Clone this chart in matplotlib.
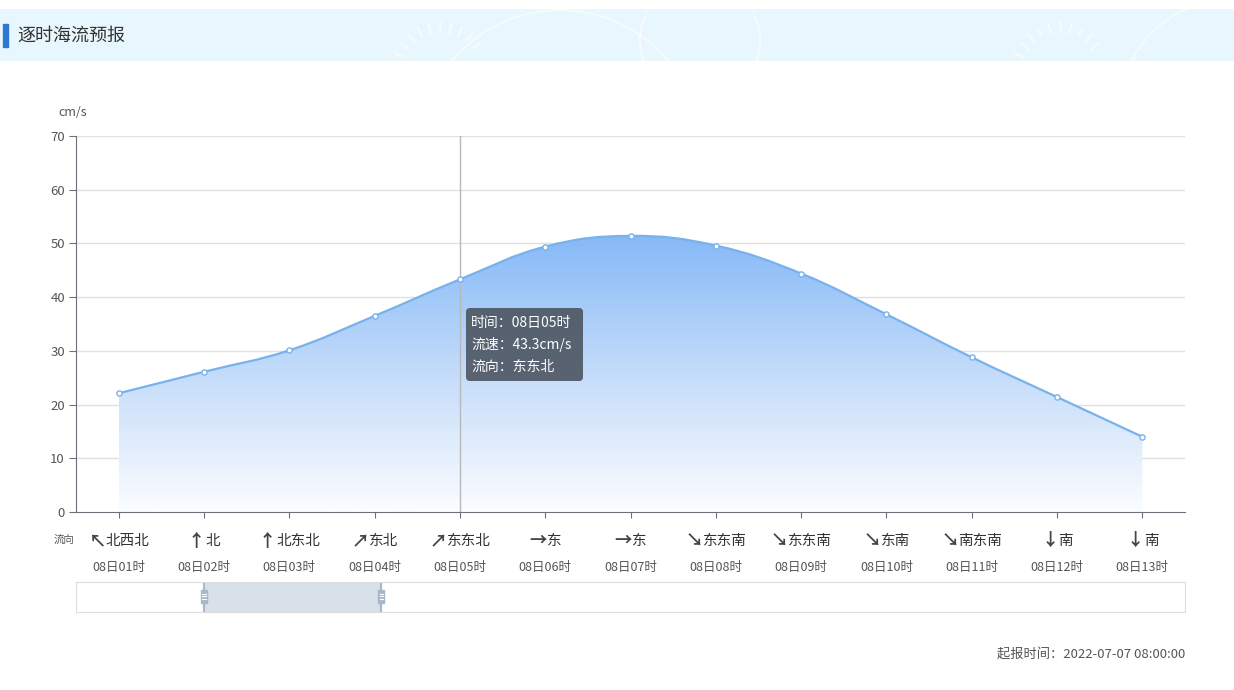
import numpy as np
import matplotlib
matplotlib.use("Agg")
import matplotlib.pyplot as plt
from matplotlib.path import Path
from matplotlib.patches import PathPatch, Rectangle, FancyBboxPatch, Arc
from matplotlib.colors import LinearSegmentedColormap
from matplotlib.transforms import offset_copy

plt.rcParams['font.family'] = ['Noto Sans CJK SC', 'DejaVu Sans']

# ---------------- data ----------------
times = ["08日01时", "08日02时", "08日03时", "08日04时", "08日05时", "08日06时", "08日07时",
         "08日08时", "08日09时", "08日10时", "08日11时", "08日12时", "08日13时"]
speeds = [22.1, 26.1, 30.1, 36.5, 43.3, 49.4, 51.4, 49.6, 44.4, 36.8, 28.8, 21.4, 14.0]
directions = ["北西北", "北", "北东北", "东北", "东东北", "东", "东",
              "东东南", "东东南", "东南", "南东南", "南", "南"]
arrows = ["↖", "↑", "↑", "↗", "↗", "→", "→", "↘", "↘", "↘", "↘", "↓", "↓"]
yticks = [0, 10, 20, 30, 40, 50, 60, 70]
tip_index = 4
title = "逐时海流预报"
issue_time = "起报时间：2022-07-07 08:00:00"
zoom_window = (1, 3.08)  # data-zoom slider window in category units

W, H = 1234, 690
fig = plt.figure(figsize=(W / 100, H / 100), dpi=100)


def fx(px):
    return px / W


def fy(py):
    return 1 - py / H


# ---------------- title banner ----------------
banner = fig.add_axes([0, fy(61), 1, (61 - 9) / H])
banner.set_xlim(0, W)
banner.set_ylim(61, 9)
banner.axis('off')
banner.add_patch(Rectangle((0, 9), W, 52, color='#e8f6fd', zorder=0))
for cx, cy, r in [(560, 150, 140), (1230, 110, 110), (700, 40, 60)]:
    banner.add_patch(Arc((cx, cy), 2 * r, 2 * r, color='white', lw=1.5, alpha=0.55, zorder=1))
for i in range(10):
    ang = np.deg2rad(200 + i * 14)
    for cx, cy in [(440, 70), (1060, 70)]:
        r1, r2 = 38, 48
        banner.plot([cx + r1 * np.cos(ang), cx + r2 * np.cos(ang)],
                    [cy + r1 * np.sin(ang), cy + r2 * np.sin(ang)],
                    color='white', lw=1.8, alpha=0.55, solid_capstyle='round', zorder=1)
banner.add_patch(Rectangle((3, 24), 5, 23, color='#2e78d2', zorder=2))
banner.text(17, 35.5, title, fontsize=13, color='#333333', va='center', ha='left', zorder=3)

# ---------------- main chart ----------------
ax = fig.add_axes([fx(76), fy(512), fx(1185) - fx(76), (512 - 136) / H])
n = len(speeds)
x = np.arange(n)
y = np.array(speeds)
ax.set_xlim(-0.5, n - 0.5)
ax.set_ylim(0, 70)

# smooth curve via cubic Bezier segments
k = 0.2
verts = [(x[0], y[0])]
codes = [Path.MOVETO]
for i in range(n - 1):
    p0 = np.array([x[max(i - 1, 0)], y[max(i - 1, 0)]])
    p1 = np.array([x[i], y[i]])
    p2 = np.array([x[i + 1], y[i + 1]])
    p3 = np.array([x[min(i + 2, n - 1)], y[min(i + 2, n - 1)]])
    c1 = p1 + (p2 - p0) * k
    c2 = p2 - (p3 - p1) * k
    verts += [tuple(c1), tuple(c2), tuple(p2)]
    codes += [Path.CURVE4] * 3
line_path = Path(verts, codes)

fill_verts = verts + [(x[-1], 0), (x[0], 0), (x[0], y[0])]
fill_codes = codes + [Path.LINETO, Path.LINETO, Path.CLOSEPOLY]
fill_path = Path(fill_verts, fill_codes)

for t in yticks[1:]:
    ax.axhline(t, color='#e0e0e0', lw=1, zorder=0)

cmap = LinearSegmentedColormap.from_list('g', ['#fbfdff', '#c4dcfa', '#86b9f7'])
grad = np.linspace(0, 1, 256).reshape(-1, 1)
im = ax.imshow(grad, extent=[x[0], x[-1], 0, y.max()], origin='lower', aspect='auto',
               cmap=cmap, zorder=1)
clip = PathPatch(fill_path, transform=ax.transData, facecolor='none', edgecolor='none')
ax.add_patch(clip)
im.set_clip_path(clip)

ax.add_patch(PathPatch(line_path, facecolor='none', edgecolor='#78b2ed', lw=1.6, zorder=3))
ax.scatter(x, y, s=14, facecolor='white', edgecolor='#78b2ed', linewidth=1, zorder=4)

ax.axvline(x[tip_index], color='#b8b8b8', lw=1, zorder=2)

for side in ['top', 'right']:
    ax.spines[side].set_visible(False)
ax.spines['left'].set_color('#6e7079')
ax.spines['bottom'].set_color('#6e7079')
ax.set_yticks(yticks)
ax.set_yticklabels([str(v) for v in yticks])
ax.tick_params(axis='y', length=5, color='#6e7079', labelsize=9.5, labelcolor='#555555', pad=3)
ax.set_xticks(x)
ax.set_xticklabels([])
ax.tick_params(axis='x', length=4, color='#6e7079', direction='out')
ax.text(-0.016, 1.062, "cm/s", transform=ax.transAxes, fontsize=9, color='#555555',
        ha='left', va='center')

# two-row category labels (arrow drawn bolder, pair centred under the tick)
trans = ax.get_xaxis_transform()
arrow_texts, dir_texts = [], []
for i in range(n):
    a = ax.text(x[i], (512 - 541) / (512 - 136), arrows[i], transform=trans, ha='left',
                va='center', fontsize=12.5, fontweight='bold', color='#444444', clip_on=False)
    d = ax.text(x[i], (512 - 541) / (512 - 136), directions[i], transform=trans, ha='left',
                va='center', fontsize=10.5, color='#333333', clip_on=False)
    arrow_texts.append(a)
    dir_texts.append(d)
    ax.text(x[i], (512 - 567) / (512 - 136), times[i], transform=trans, ha='center',
            va='center', fontsize=9, color='#555555', clip_on=False)
fig.canvas.draw()
r = fig.canvas.get_renderer()
for i in range(n):
    wa = arrow_texts[i].get_window_extent(r).width
    wd = dir_texts[i].get_window_extent(r).width
    tot = wa + wd
    arrow_texts[i].set_transform(offset_copy(trans, fig=fig, x=-tot / 2, y=0, units='dots'))
    dir_texts[i].set_transform(offset_copy(trans, fig=fig, x=-tot / 2 + wa, y=0, units='dots'))
fig.text(fx(54), fy(540), "流向", fontsize=7.5, color='#555555', ha='left', va='center')

# tooltip
tip_lines = ["时间：" + times[tip_index],
             "流速：%.1fcm/s" % speeds[tip_index],
             "流向：" + directions[tip_index]]
tax = fig.add_axes([0, 0, 1, 1], facecolor='none')
tax.set_xlim(0, W)
tax.set_ylim(H, 0)
tax.axis('off')
tax.add_patch(FancyBboxPatch((466, 308), 117, 73, boxstyle='round,pad=0,rounding_size=4',
                             facecolor='#4f5864', edgecolor='none', alpha=0.92, zorder=5))
for j, s in enumerate(tip_lines):
    tax.text(471, 323.5 + j * 21.5, s, color='white', fontsize=10, ha='left', va='center',
             zorder=6)

# data-zoom slider
sax = fig.add_axes([fx(76), fy(612), fx(1185) - fx(76), 30 / H])
sax.set_xlim(-0.5, n - 0.5)
sax.set_ylim(0, 1)
sax.set_xticks([])
sax.set_yticks([])
for sp in sax.spines.values():
    sp.set_color('#dddddd')
z0, z1 = zoom_window
sax.axvspan(z0, z1, color='#d8e0ea', zorder=1)
for zx in (z0, z1):
    sax.axvline(zx, color='#a7b7cc', lw=1.5, zorder=2)
    sax.add_patch(Rectangle((zx - 0.035, 0.3), 0.07, 0.42, facecolor='#a7b7cc',
                            edgecolor='#a7b7cc', zorder=3))
    for hy in (0.43, 0.52, 0.61):
        sax.plot([zx - 0.022, zx + 0.022], [hy, hy], color='white', lw=0.8, zorder=4)

fig.text(fx(1185), fy(655), issue_time, fontsize=9.5, color='#555555', ha='right', va='center')

fig.savefig('out.png', dpi=100)
